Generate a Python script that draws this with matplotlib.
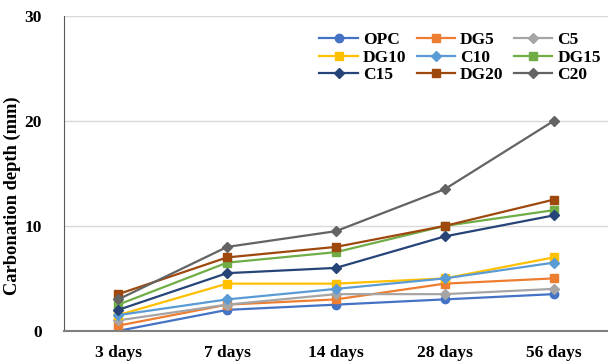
import matplotlib.pyplot as plt

days = ['3 days', '7 days', '14 days', '28 days', '56 days']
mixes = ['OPC', 'DG5', 'C5', 'DG10', 'C10', 'DG15', 'C15', 'DG20', 'C20']

opc = [0.0, 2.0, 2.5, 3.0, 3.5]
dg5 = [0.5, 2.5, 3.0, 4.5, 5.0]
c5 = [1.0, 2.5, 3.5, 3.5, 4.0]
dg10 = [1.5, 4.5, 4.5, 5.0, 7.0]
c10 = [1.5, 3.0, 4.0, 5.0, 6.5]
dg15 = [2.5, 6.5, 7.5, 10.0, 11.5]
c15 = [2.0, 5.5, 6.0, 9.0, 11.0]
dg20 = [3.5, 7.0, 8.0, 10.0, 12.5]
c20 = [3.0, 8.0, 9.5, 13.5, 20.0]

series = [opc, dg5, c5, dg10, c10, dg15, c15, dg20, c20]
colors = ['#4472C4', '#ED7D31', '#A5A5A5', '#FFC000', '#5B9BD5',
          '#70AD47', '#264478', '#9E480E', '#636363']
markers = ['o', 's', 'D', 's', 'D', 's', 'D', 's', 'D']

plt.rcParams['font.family'] = ['Liberation Serif', 'DejaVu Serif']
plt.rcParams['font.weight'] = 'bold'

fig = plt.figure(figsize=(6.08, 3.64), dpi=100)
ax = fig.add_axes([0.105, 0.091, 0.895, 0.865])

x = list(range(len(days)))
handles = {}
for name, vals, col, mk in zip(mixes, series, colors, markers):
    ms = 5.5 if mk == 'D' else 6
    h, = ax.plot(x, vals, color=col, marker=mk, markersize=ms, linewidth=1.6, label=name)
    handles[name] = h

ax.set_xlim(-0.5, 4.5)
ax.set_ylim(0, 30)
ax.set_yticks([0, 10, 20, 30])
ax.set_xticks(x)
ax.set_xticklabels(days)
ax.tick_params(axis='both', length=0, labelsize=12.5)
ax.tick_params(axis='x', pad=10)
ax.tick_params(axis='y', pad=16)
for lbl in ax.get_xticklabels() + ax.get_yticklabels():
    lbl.set_fontweight('bold')
ax.set_ylabel('Carbonation depth (mm)', fontsize=13.3, fontweight='bold')
ax.yaxis.set_label_coords(-0.079, 0.43)

ax.grid(axis='y', color='#d9d9d9', linewidth=1)
ax.set_axisbelow(True)
for s in ['top', 'right']:
    ax.spines[s].set_visible(False)
ax.spines['left'].set_color('#595959')
ax.spines['bottom'].set_color('#7f7f7f')
ax.spines['bottom'].set_linewidth(1.5)

# legend filled row by row like the original
order = ['OPC', 'DG10', 'C15', 'DG5', 'C10', 'DG20', 'C5', 'DG15', 'C20']
leg = ax.legend([handles[n] for n in order], order, ncol=3, frameon=False,
                loc='upper left', bbox_to_anchor=(0.457, 0.971),
                prop={'size': 12.5, 'weight': 'bold'},
                handlelength=2.2, handletextpad=0.3, columnspacing=0.6,
                labelspacing=0.08, borderaxespad=0.0)

fig.savefig('out.png', dpi=100)
